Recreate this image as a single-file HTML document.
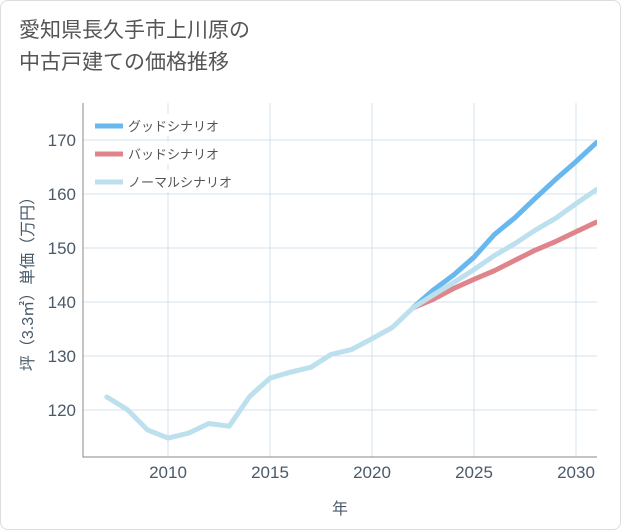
<!DOCTYPE html>
<html><head><meta charset="utf-8"><style>
body{margin:0;background:#fff;}
#wrap{position:relative;width:619px;height:528px;border:1px solid #ddd;border-radius:8px;overflow:hidden;background:#fff;font-family:"Liberation Sans","Noto Sans CJK JP",sans-serif;}
#title{position:absolute;left:18px;top:14px;font-size:21px;line-height:32px;color:#555;}
</style></head><body>
<div id="wrap">
<div id="title">愛知県長久手市上川原の<br>中古戸建ての価格推移</div>
<svg id="svg" width="621" height="530" style="position:absolute;left:-1px;top:-1px"></svg>
</div>
<script>
const histYears=[2007,2008,2009,2010,2011,2012,2013,2014,2015,2016,2017,2018,2019,2020,2021,2022];
const histVals=[122.4,120.1,116.3,114.8,115.7,117.5,117,122.5,125.9,127,127.9,130.3,131.2,133.2,135.3,138.9];
const scenYears=[2022,2023,2024,2025,2026,2027,2028,2029,2030,2031];
const goodVals=[138.9,142.2,145,148.3,152.5,155.6,159.2,162.7,166,169.5];
const badVals=[138.9,140.5,142.5,144.2,145.8,147.7,149.6,151.2,153,154.8];
const normalVals=[138.9,141.3,143.6,146,148.6,150.8,153.3,155.5,158.2,160.8];
const xTicks=[2010,2015,2020,2025,2030];
const yTicks=[120,130,140,150,160,170];
const legendLabels=["グッドシナリオ","バッドシナリオ","ノーマルシナリオ"];

const L=83,R=597,T=103,B=457;
const x=v=>168+(v-2010)*20.4;
const y=v=>410-(v-120)*5.4;
const svg=document.getElementById('svg');
const NS='http://www.w3.org/2000/svg';
function mk(t,a,p){const e=document.createElementNS(NS,t);for(const k in a)e.setAttribute(k,a[k]);(p||svg).appendChild(e);return e;}
const clip=mk('clipPath',{id:'c'});mk('rect',{x:L,y:T,width:R-L,height:B-T},clip);
xTicks.forEach(t=>{
 const g=mk('line',{x1:x(t),x2:x(t),y1:T,y2:B,stroke:'#d3e1ec','stroke-width':1});
 
 const l=mk('text',{x:x(t),y:478,'text-anchor':'middle','font-size':17,fill:'#4a5a6a'});l.textContent=t;
 
});
yTicks.forEach(t=>{
 const g=mk('line',{x1:L,x2:R,y1:y(t),y2:y(t),stroke:'#d3e1ec','stroke-width':1});
 
 const l=mk('text',{x:76,y:y(t)+6,'text-anchor':'end','font-size':17,fill:'#4a5a6a'});l.textContent=t;
 
});
const ax=mk('path',{d:`M${L} ${T}V${B}H${R}`,fill:'none',stroke:'#888','stroke-width':1});

function line(xs,vs,col,name){
 const p=mk('polyline',{points:xs.map((t,i)=>x(t)+','+y(vs[i])).join(' '),fill:'none',stroke:col,'stroke-width':5,'stroke-linejoin':'round','stroke-linecap':'round','clip-path':'url(#c)'});
 
}
line(scenYears,badVals,'#e0848c','bad-scenario-line');
line(scenYears,goodVals,'#69b7ef','good-scenario-line');
line(scenYears,normalVals,'#bde0ee','normal-scenario-line');
line(histYears,histVals,'#bde0ee','historical-line');
const lc=['#69b7ef','#e0848c','#bde0ee'];
legendLabels.forEach((s,i)=>{
 const yy=126+i*28;
 const bg=mk('rect',{x:92,y:yy-12,width:s.length*14+40,height:22,fill:'#fff'});
 
 const sw=mk('line',{x1:95,x2:123,y1:yy,y2:yy,stroke:lc[i],'stroke-width':5});
 
 const t=mk('text',{x:128,y:yy+5,'font-size':13,fill:'#555'});t.textContent=s;
 
});
const xt=mk('text',{x:340,y:514,'text-anchor':'middle','font-size':16,fill:'#4a5a6a'});xt.textContent='年';

const yt=mk('text',{x:0,y:0,'text-anchor':'middle','font-size':16,fill:'#4a5a6a',transform:'translate(33,280) rotate(-90)'});yt.textContent='坪（3.3㎡）単価（万円）';

</script>
</body></html>
